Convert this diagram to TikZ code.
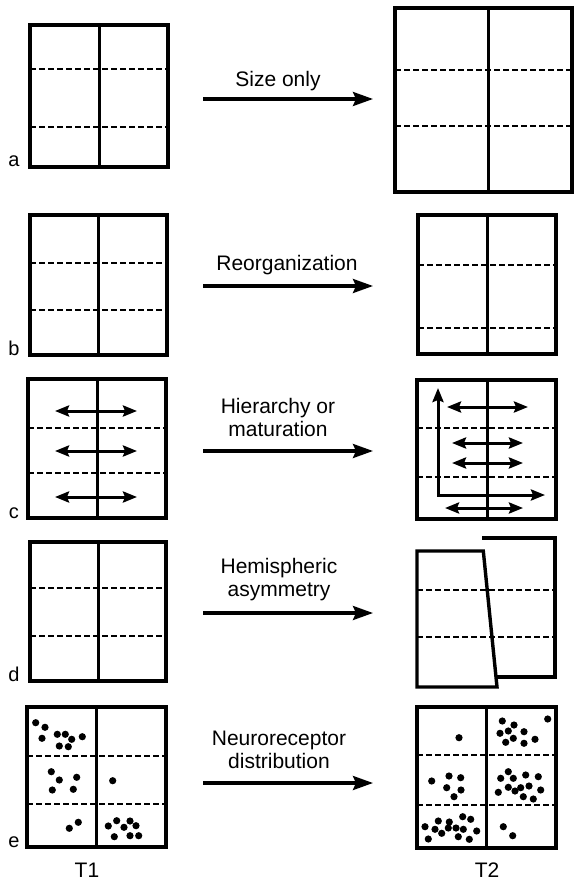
\documentclass[tikz,border=0pt]{standalone}
\usepackage{fontspec}
\setmainfont{Liberation Sans}
\usetikzlibrary{arrows.meta}

% A divided box: corners (#1,#2)-(#3,#4), vertical divider at x=#5, dashed cuts at y=#6 and y=#7
\newcommand\dividedbox[7]{%
  \draw[cutline] (#1,#6) -- (#3,#6);
  \draw[cutline] (#1,#7) -- (#3,#7);
  \draw[divline] (#5,#2) -- (#5,#4);
  \draw[boxline] (#1,#2) rectangle (#3,#4);
}

\begin{document}
\begin{tikzpicture}[x=1pt,y=-1pt,
  boxline/.style={line width=3.4pt, line join=miter},
  divline/.style={line width=3pt},
  cutline/.style={line width=2.6pt, dash pattern=on 6pt off 3pt},
  shiftarrow/.style={line width=3.2pt, -{Stealth[length=20pt,width=14pt,inset=3pt]}},
  twoway/.style={line width=3pt, {Stealth[length=14pt,width=11pt,inset=2pt]}-{Stealth[length=14pt,width=11pt,inset=2pt]}},
  caption/.style={font=\fontsize{21}{23}\selectfont, anchor=base, inner sep=0pt},
  tag/.style={font=\fontsize{20}{22}\selectfont, anchor=base, inner sep=0pt}
]
\useasboundingbox[fill=white] (0,0) rectangle (575,882);

% ---------- row a: size only ----------
\dividedbox{30}{25}{168}{167}{99}{69}{127}
\dividedbox{395}{8}{572}{192}{488}{70}{126}
\node[tag] (la) at (14,167) {a};
\coordinate (a1) at (203,99);
\coordinate (a2) at (373,99);
\draw[shiftarrow] (a1) -- (a2);
\node[caption] (ta) at (278,87) {Size only};

% ---------- row b: reorganization ----------
\dividedbox{30}{215}{167}{355}{98}{263}{310}
\dividedbox{418}{215}{556}{354}{487}{265}{328}
\node[tag] (lb) at (14,355) {b};
\coordinate (b1) at (203,286);
\coordinate (b2) at (373,286);
\draw[shiftarrow] (b1) -- (b2);
\node[caption] (tb) at (287,271) {Reorganization};

% ---------- row c: hierarchy or maturation ----------
\dividedbox{28}{379}{166}{518}{97}{428}{473}
\foreach \y in {411,451,497} {
  \coordinate (cl\y) at (55,\y);
  \coordinate (cr\y) at (137,\y);
  \draw[twoway] (cl\y) -- (cr\y);
}
\dividedbox{417}{380}{556}{519}{487}{428}{477}
\foreach \y/\xa/\xb in {407/447/528, 443/452/523, 463/452/523, 508/445/523} {
  \coordinate (dl\y) at (\xa,\y);
  \coordinate (dr\y) at (\xb,\y);
  \draw[twoway] (dl\y) -- (dr\y);
}
\coordinate (ctop) at (438,388);
\coordinate (ccorner) at (438,495);
\coordinate (cright) at (545,495);
\draw[twoway, line join=miter] (ctop) -- (ccorner) -- (cright);
\node[tag] (lc) at (14,518) {c};
\coordinate (c1) at (203,451);
\coordinate (c2) at (373,451);
\draw[shiftarrow] (c1) -- (c2);
\node[caption] (tc1) at (278,413) {Hierarchy or};
\node[caption] (tc2) at (278,436) {maturation};

% ---------- row d: hemispheric asymmetry ----------
\dividedbox{30}{542}{166}{681}{98}{588}{636}
\draw[cutline] (417,590) -- (555,590);
\draw[cutline] (417,637) -- (555,637);
\draw[boxline] (417,551) -- (483.3,551) -- (497,687) -- (417,687) -- cycle;
\draw[boxline] (482,538) -- (555,538) -- (555,677) -- (496,677);
\node[tag] (ld) at (14,681) {d};
\coordinate (d1) at (203,613);
\coordinate (d2) at (373,613);
\draw[shiftarrow] (d1) -- (d2);
\node[caption] (td1) at (279,573) {Hemispheric};
\node[caption] (td2) at (279,596) {asymmetry};

% ---------- row e: neuroreceptor distribution ----------
\dividedbox{27}{707}{166}{847}{96}{756}{804}
\foreach \x/\y in {35.7/722.7, 45/727.3, 42/738.3, 57.3/734.3, 65.3/734.3, 71.7/739.3,
                   82.3/736.7, 59.3/746, 68.3/746.7,
                   51.3/771.7, 59.3/780, 76.7/777.3, 52.3/790, 73.3/789.3,
                   112.7/780.7,
                   78.3/822.3, 69.3/828.3,
                   108.3/826, 116.7/820.7, 130/821, 124/827.3, 136/825.7,
                   114.3/836.7, 130/835.7, 138.7/835.7}
  \fill (\x,\y) circle (3.6pt);
\dividedbox{417}{707}{556}{848}{486}{755}{805}
\foreach \x/\y in {459/737.7,
                   502.3/721, 514/725, 500/733.3, 508.3/731, 524/731.7, 513.3/738.3,
                   505.7/742.3, 524/743.3, 535/739.3, 547.7/719,
                   431.7/781, 449/776, 460.7/777.7, 446.7/787.7, 461/790, 454/796.7,
                   508.3/771.7, 500.7/778.3, 513.3/778.3, 525.7/775, 538.3/776.7,
                   508.3/787.3, 515/791, 520.7/787.7, 529/786, 540.7/790, 498.3/792.3,
                   523.3/796.7, 533.3/799,
                   462.7/816.7, 470.7/819.3, 438.3/821, 449.3/822, 425/826.7, 435/829.3,
                   448.3/828, 456/828, 463.3/829.3, 476.7/831, 441.7/833.3, 458.3/836.7,
                   428.3/839, 469.3/839.3,
                   503.3/826.7, 512.7/835.7}
  \fill (\x,\y) circle (3.6pt);
\node[tag] (le) at (14,847) {e};
\coordinate (e1) at (203,783);
\coordinate (e2) at (373,783);
\draw[shiftarrow] (e1) -- (e2);
\node[caption] (te1) at (279,745) {Neuroreceptor};
\node[caption] (te2) at (279,768) {distribution};

% ---------- time points ----------
\node[caption] (t1) at (87,877) {T1};
\node[caption] (t2) at (487,877) {T2};
\end{tikzpicture}
\end{document}
